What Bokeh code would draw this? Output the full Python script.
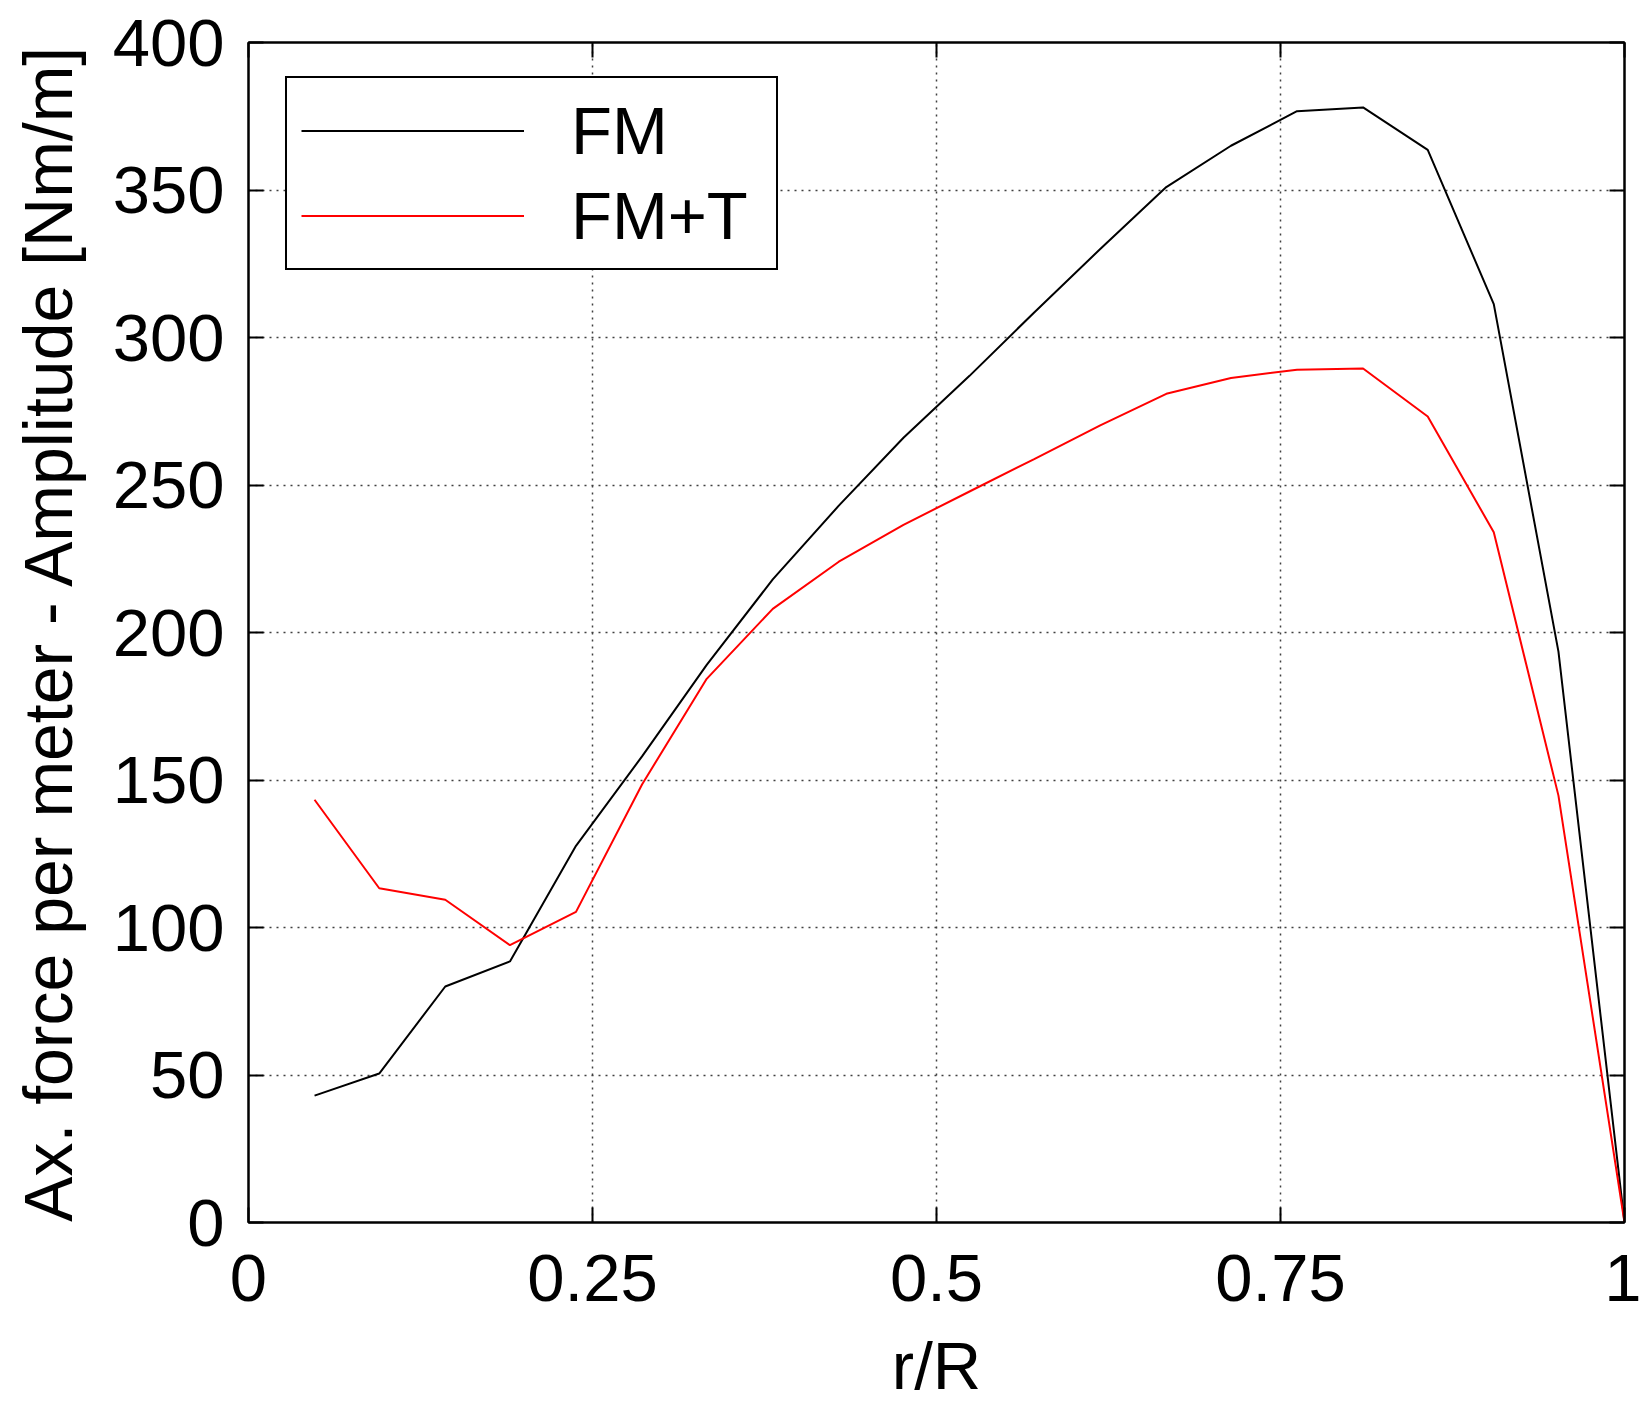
from bokeh.plotting import figure
from bokeh.models import LinearAxis, FixedTicker, Legend, LegendItem, Range1d
from bokeh.embed import file_html
from bokeh.resources import INLINE

r_over_R = [0.048, 0.095, 0.143, 0.190, 0.238, 0.286, 0.333, 0.381, 0.429, 0.476,
            0.524, 0.571, 0.619, 0.667, 0.714, 0.762, 0.810, 0.857, 0.905, 0.952, 1.0]
fm = [43.0, 50.5, 80.0, 88.5, 127.7, 158.0, 189.0, 218.0, 243.0, 266.0,
      287.0, 308.5, 330.0, 351.0, 365.0, 376.7, 378.0, 363.6, 311.3, 193.5, 0.0]
fm_t = [143.3, 113.3, 109.4, 94.0, 105.3, 148.5, 184.3, 208.0, 224.0, 236.5,
        247.8, 258.8, 270.2, 280.9, 286.3, 289.1, 289.5, 273.2, 234.0, 144.7, 0.0]
x_ticks = [0, 0.25, 0.5, 0.75, 1]
x_tick_labels = {0: "0", 0.25: "0.25", 0.5: "0.5", 0.75: "0.75", 1: "1"}
y_ticks = [0, 50, 100, 150, 200, 250, 300, 350, 400]

FONT = "Liberation Sans"
FS = "67px"

p = figure(width=1641, height=1409, output_backend="svg", toolbar_location=None,
           x_range=Range1d(0, 1), y_range=Range1d(0, 400),
           min_border_left=248, min_border_right=17, min_border_top=42, min_border_bottom=187)
p.background_fill_color = "white"
p.border_fill_color = "white"
p.outline_line_color = "black"
p.outline_line_width = 2

for ax in [p.xaxis[0], p.yaxis[0]]:
    ax.major_label_text_font = FONT
    ax.major_label_text_font_size = FS
    ax.axis_label_text_font = FONT
    ax.axis_label_text_font_size = FS
    ax.axis_label_text_font_style = "normal"
    ax.axis_label_text_color = "black"
    ax.axis_line_width = 2
    ax.major_tick_line_width = 2
    ax.major_tick_in = 15
    ax.major_tick_out = 0
    ax.minor_tick_line_color = None
    ax.major_label_text_color = "black"

p.yaxis[0].axis_label_text_font_size = "68px"
p.xaxis[0].ticker = FixedTicker(ticks=x_ticks)
p.xaxis[0].major_label_overrides = x_tick_labels
p.yaxis[0].ticker = FixedTicker(ticks=y_ticks)
p.xaxis[0].axis_label = "r/R"
p.yaxis[0].axis_label = "Ax. force per meter - Amplitude [Nm/m]"
p.xaxis[0].major_label_standoff = 32
p.xaxis[0].axis_label_standoff = 24
p.yaxis[0].major_label_standoff = 24
p.yaxis[0].axis_label_standoff = 24

for loc, tk in [("right", y_ticks), ("above", x_ticks)]:
    a = LinearAxis(ticker=FixedTicker(ticks=tk), major_label_text_font_size="1px",
                   major_label_text_color=None,
                   major_tick_in=15, major_tick_out=0, major_tick_line_width=2,
                   minor_tick_line_color=None, axis_line_width=2, major_label_standoff=0)
    p.add_layout(a, loc)

p.xgrid.ticker = FixedTicker(ticks=x_ticks)
p.ygrid.ticker = FixedTicker(ticks=y_ticks)
for g in [p.xgrid, p.ygrid]:
    g.grid_line_color = "#404040"
    g.grid_line_dash = "2 5"
    g.grid_line_width = 1.5

l1 = p.line(r_over_R, fm, line_color="black", line_width=2)
l2 = p.line(r_over_R, fm_t, line_color="red", line_width=2)

legend = Legend(items=[LegendItem(label="FM", renderers=[l1]),
                       LegendItem(label="FM+T", renderers=[l2])],
                location=(37, 952), margin=0, padding=14, spacing=8,
                glyph_width=223, glyph_height=75, label_height=75, label_standoff=47,
                label_width=191,
                label_text_font=FONT, label_text_font_size=FS, label_text_color="black",
                border_line_color="black", border_line_width=2, border_line_alpha=1.0,
                background_fill_alpha=1.0)
p.add_layout(legend, "center")

open("out.html", "w").write(file_html(p, INLINE))
